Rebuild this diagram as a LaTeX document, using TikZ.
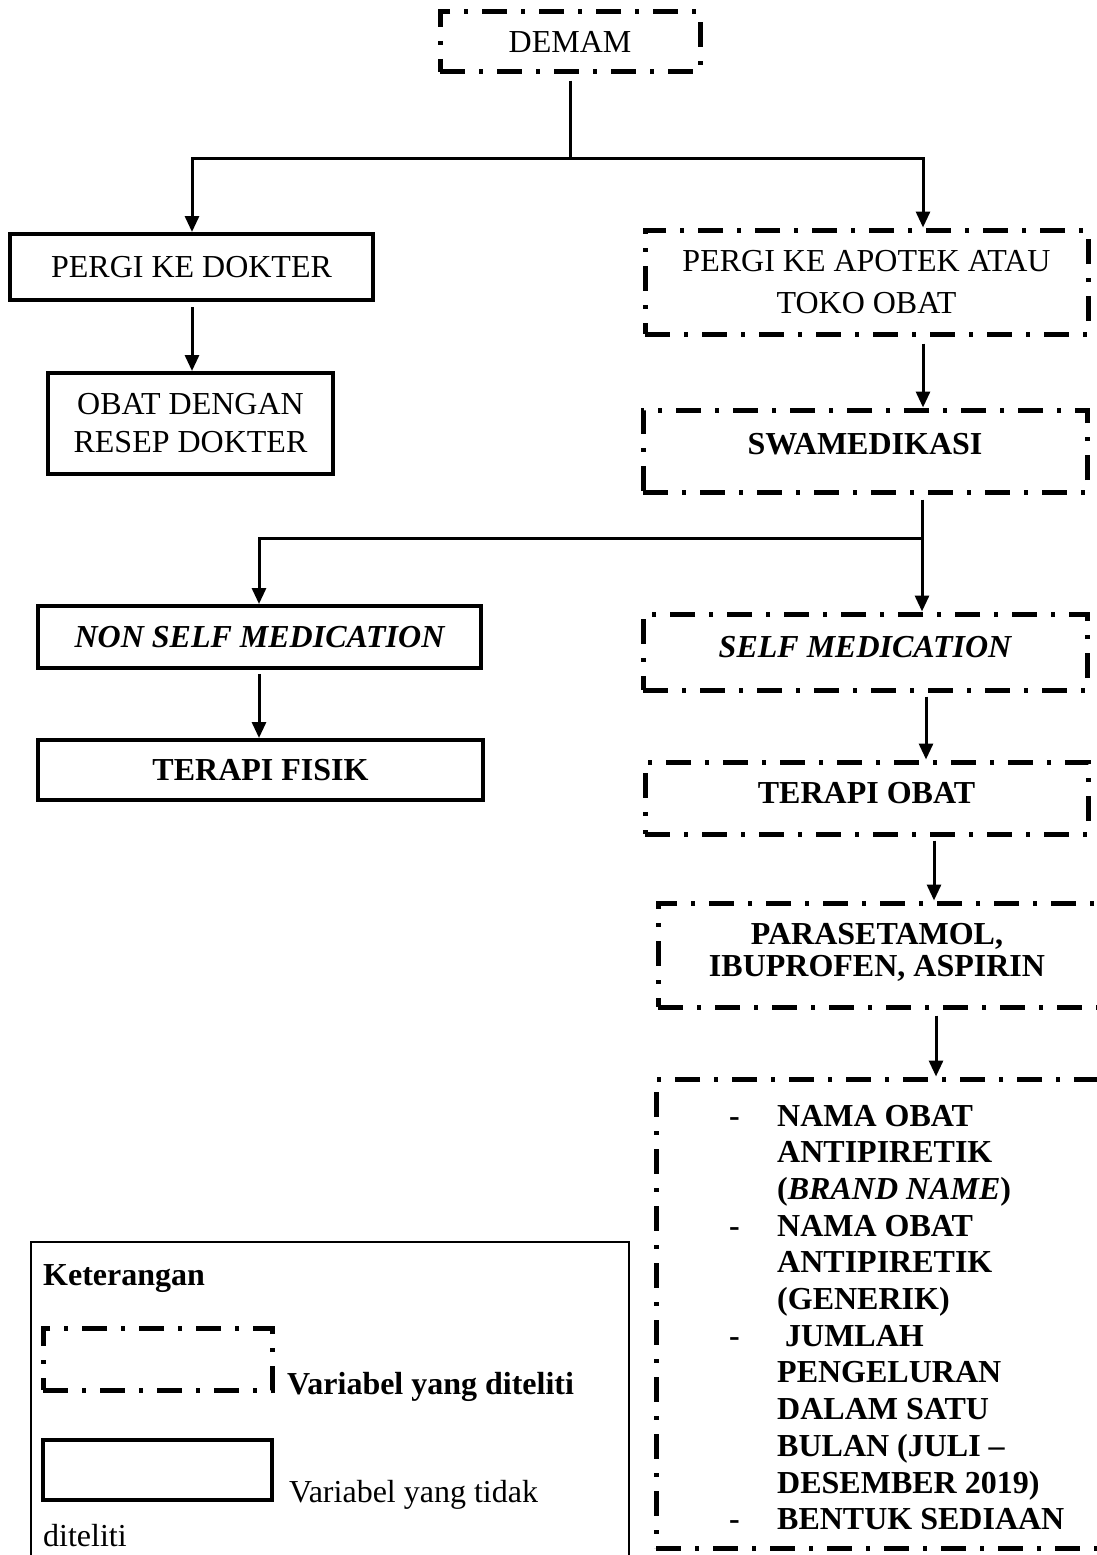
\documentclass[tikz,border=0pt]{standalone}
\usepackage{fontspec}
\setmainfont{Liberation Serif}
\usetikzlibrary{arrows.meta}
\begin{document}
\begin{tikzpicture}[x=1pt,y=-1pt,
  dd/.style={draw, line width=5pt, dash pattern=on 25pt off 14pt on 4pt off 14pt},
  sb/.style={draw, line width=4pt},
  arr/.style={line width=3pt, -{Triangle[width=14pt,length=16pt]}},
  ln/.style={line width=3pt},
  txt/.style={font=\fontsize{32}{38}\selectfont, align=center, inner sep=0pt}]
\useasboundingbox (0,0) rectangle (1097,1555);
\clip (0,0) rectangle (1097,1555);

% boxes
\node[dd, txt, minimum width=260pt, minimum height=60pt] (demam) at (570,42) {DEMAM};
\node[sb, txt, minimum width=363pt, minimum height=66pt] (dokter) at (191.5,267) {PERGI KE DOKTER};
\node[sb, txt, minimum width=285pt, minimum height=101pt] (resep) at (190.5,423.5) {OBAT DENGAN\\RESEP DOKTER};
\node[dd, txt, font=\fontsize{32}{42}\selectfont, minimum width=443pt, minimum height=104pt] (apotek) at (866.5,282) {PERGI KE APOTEK ATAU\\TOKO OBAT};
\node[dd, txt, font=\fontsize{32}{38}\bfseries, text height=22pt, text depth=16pt, minimum width=444pt, minimum height=82pt] (swa) at (865,451) {SWAMEDIKASI};
\node[sb, txt, font=\fontsize{32}{38}\bfseries\itshape, minimum width=443pt, minimum height=62pt] (nonself) at (259.5,637) {NON SELF MEDICATION};
\node[sb, txt, font=\fontsize{32}{38}\bfseries, minimum width=445pt, minimum height=60pt] (fisik) at (260.5,770) {TERAPI FISIK};
\node[dd, txt, font=\fontsize{32}{38}\bfseries\itshape, text height=22pt, text depth=12pt, minimum width=444pt, minimum height=76pt] (self) at (865,652) {SELF MEDICATION};
\node[dd, txt, font=\fontsize{32}{38}\bfseries, text height=22pt, text depth=12pt, minimum width=443pt, minimum height=72pt] (obat) at (866.5,798) {TERAPI OBAT};
\node[dd, minimum width=442pt, minimum height=104pt] (para) at (879,955) {};
\node[txt, font=\fontsize{32}{32}\bfseries, anchor=center] (paratext) at (877,952) {PARASETAMOL,\\IBUPROFEN, ASPIRIN};
\node[dd, minimum width=443pt, minimum height=469pt] (attr) at (877.5,1313.5) {};
\node[inner sep=0pt, anchor=base west, font=\fontsize{32}{36.7}\bfseries] (attrtext) at (729,1126)
  {\renewcommand{\arraystretch}{1}\begin{tabular}[t]{@{}p{48pt}@{}l@{}}
  -& NAMA OBAT\\
   & ANTIPIRETIK\\
   & (\textit{BRAND NAME})\\
  -& NAMA OBAT\\
   & ANTIPIRETIK\\
   & (GENERIK)\\
  -& \hspace*{8pt}JUMLAH\\
   & PENGELURAN\\
   & DALAM SATU\\
   & BULAN (JULI –\\
   & DESEMBER 2019)\\
  -& BENTUK SEDIAAN
  \end{tabular}};

% legend
\node[draw, line width=1.5pt, minimum width=598pt, minimum height=330pt, anchor=north west] (legend) at (30,1241) {};
\node[inner sep=0pt, anchor=base west, font=\fontsize{32}{38}\bfseries] (ket) at (43,1285) {Keterangan};
\node[dd, minimum width=229pt, minimum height=62pt] (legdd) at (157.5,1359) {};
\node[inner sep=0pt, anchor=base west, font=\fontsize{32}{38}\bfseries] (legddtext) at (287,1394) {Variabel yang diteliti};
\node[sb, minimum width=229pt, minimum height=60pt] (legsb) at (157.5,1470) {};
\node[inner sep=0pt, anchor=base west, font=\fontsize{32}{38}\selectfont] (legsbtext) at (289,1502) {Variabel yang tidak};
\node[inner sep=0pt, anchor=base west, font=\fontsize{32}{38}\selectfont] (legsbtext2) at (43,1546) {diteliti};

% junctions
\coordinate (j1) at (570,158);
\coordinate (jl) at (192,158);
\coordinate (jr) at (923,158);
\coordinate (j2) at (922,538);
\coordinate (j2l) at (259,538);
\coordinate (a3) at (926,0);
\coordinate (a4) at (934,0);
\coordinate (a5) at (936,0);

% connectors
\draw[ln] ([yshift=-6pt]demam.south) -- (j1);
\draw[arr] (j1) -- (jl) -- (dokter.north -| jl);
\draw[arr] (j1) -- (jr) -- (apotek.north -| jr);
\draw[arr] ([yshift=-5pt]dokter.south -| jl) -- (resep.north -| jl);
\draw[arr] ([yshift=-7pt]apotek.south -| jr) -- (swa.north -| jr);
\draw[ln] ([yshift=-5pt]swa.south -| j2) -- (j2);
\draw[arr] (j2) -- (j2l) -- (nonself.north -| j2l);
\draw[arr] (j2) -- (self.north -| j2);
\draw[arr] ([yshift=-4pt]nonself.south -| j2l) -- (fisik.north -| j2l);
\draw[arr] ([yshift=-4pt]self.south -| a3) -- (obat.north -| a3);
\draw[arr] ([yshift=-4pt]obat.south -| a4) -- (para.north -| a4);
\draw[arr] ([yshift=-6pt]para.south -| a5) -- (attr.north -| a5);
\end{tikzpicture}
\end{document}
